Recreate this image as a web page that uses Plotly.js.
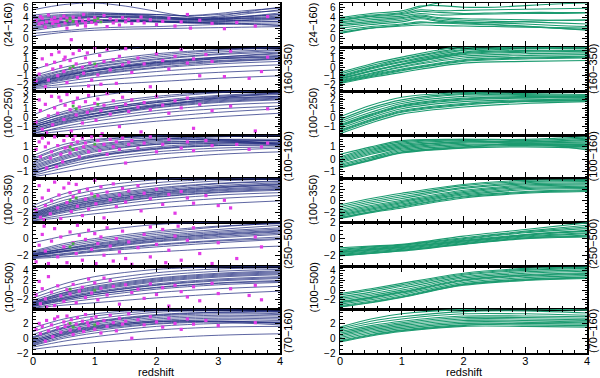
<!DOCTYPE html>
<html>
<head>
<meta charset="utf-8">
<script src="https://cdn.plot.ly/plotly-3.0.1.min.js"></script>
<style>html,body{margin:0;padding:0;background:#fff}#chart{width:600px;height:378px}</style>
</head>
<body>
<div id="chart"></div>
<script>
// ---------- labels / axes ----------
const panelLabels = ["(24\u2212160)","(160\u2212350)","(100\u2212250)","(100\u2212160)","(100\u2212350)","(250\u2212500)","(100\u2212500)","(70\u2212160)"];
const yRanges = [[-1.6,6.8],[-2.8,2.4],[-1.95,3],[-1.5,1.95],[-3.6,3.9],[-3.3,2],[-3.9,5],[-2,3.95]];
const yDticks = [2,1,1,1,2,2,2,2];
const yMinor  = [0.5,0.2,0.2,0.2,0.5,0.5,0.5,0.5];
const xTitle = "redshift";

// ---------- redshift grids ----------
const zTop  = [0,0.5,1,1.5,2,2.5,3,3.5,4];
const zTopR = [0,0.5,1,1.3,1.6,2,2.5,3,3.5,4];
const zGrid = [0,0.5,1,2,3,4];

// ---------- left column model lines (blue) ----------
const left1 = [
 [3.0,3.6,4.0,4.0,3.8,3.6,3.8,4.2,4.6],[2.5,3.2,3.6,3.7,3.6,3.5,3.8,4.3,4.9],
 [3.5,4.0,4.3,4.3,4.1,3.8,4.1,4.8,5.5],[2.0,2.8,3.3,3.5,3.4,3.2,3.3,3.6,3.9],
 [4.0,4.4,4.6,4.5,4.2,3.9,4.0,4.3,4.6],[1.5,2.4,3.0,3.2,3.2,3.1,3.1,3.2,3.3],
 [3.2,3.8,4.1,4.2,4.0,3.7,3.5,3.4,3.3],[4.5,5.0,5.0,4.7,4.3,3.9,4.3,5.2,6.0],
 [2.8,3.3,3.5,3.4,3.2,3.0,2.9,2.7,2.5],[1.0,1.5,2.0,2.2,2.3,2.5,2.7,2.9,3.0],
 [5.5,6.5,6.8,6.2,5.2,4.2,3.8,3.9,4.0],[3.8,4.2,4.5,4.6,4.6,4.4,4.8,5.4,5.8],
 [2.2,3.0,3.4,3.5,3.3,3.1,3.2,3.5,3.7],[0.5,1.2,1.6,1.8,1.9,2.0,2.1,2.2,2.3],
 [3.3,3.9,4.2,4.1,3.9,3.6,3.6,3.8,4.0],[2.6,3.1,3.4,3.4,3.3,3.3,3.6,4.0,4.3],
 [4.2,4.6,4.8,4.8,4.6,4.3,4.6,5.0,5.3],[1.8,2.6,3.1,3.3,3.2,3.0,2.9,2.8,2.6]
];
const left2 = [
 [-2.0,-1.2,-0.6,0.3,0.8,1.1],[-1.8,-0.9,-0.3,0.6,1.1,1.4],[-1.6,-0.7,0.0,0.9,1.5,1.8],
 [-2.2,-1.5,-0.9,-0.1,0.4,0.7],[-1.4,-0.4,0.3,1.2,1.8,2.1],[-2.3,-1.7,-1.2,-0.5,0.0,0.3],
 [-1.9,-1.1,-0.4,0.4,1.0,1.3],[-1.0,0.0,0.7,1.6,2.1,2.4],[-0.3,0.8,1.6,2.6,3.0,3.2],
 [-2.4,-2.0,-1.6,-1.0,-0.6,-0.3],[-1.7,-0.8,-0.2,0.7,1.2,1.6],[-2.1,-1.3,-0.7,0.2,0.7,1.0],
 [-1.5,-0.6,0.1,1.0,1.6,2.0],[-2.0,-1.0,-0.4,0.5,1.0,1.2],[-1.2,-0.3,0.4,1.4,2.0,2.3],
 [-2.5,-2.3,-2.1,-1.7,-1.3,-1.0],[-1.85,-1.0,-0.35,0.55,1.2,1.7],[-2.05,-1.4,-0.8,0.0,0.6,0.95]
];
const left3 = [
 [-1.6,-0.6,0.1,1.1,1.7,2.0],[-1.3,-0.3,0.4,1.4,2.0,2.3],[-1.1,0.0,0.7,1.7,2.3,2.6],
 [-0.9,0.2,0.9,1.9,2.5,2.8],[-0.7,0.5,1.2,2.2,2.8,3.1],[-1.8,-1.0,-0.4,0.5,1.0,1.3],
 [-1.5,-0.7,-0.1,0.8,1.4,1.7],[-1.2,-0.4,0.2,1.2,1.8,2.1],[-1.0,-0.1,0.5,1.5,2.1,2.4],
 [-0.8,0.1,0.8,1.7,2.4,2.7],[0.3,1.6,2.4,3.2,3.5,3.6],[-1.7,-1.2,-0.8,0.0,0.6,1.0],
 [-0.5,0.7,1.5,2.4,2.9,3.1],[-1.4,-0.5,0.2,1.3,2.2,2.8],[-0.6,0.4,1.0,1.8,2.2,2.4],
 [-1.9,-1.5,-1.1,-0.4,0.1,0.5],[-1.05,-0.2,0.45,1.35,1.9,2.2]
];
const left4 = [
 [-1.2,-0.4,0.2,0.8,1.1,1.2],[-1.0,-0.2,0.4,1.0,1.3,1.4],[-0.8,0.0,0.6,1.2,1.4,1.5],
 [-0.6,0.2,0.8,1.3,1.5,1.5],[-0.4,0.5,1.0,1.5,1.6,1.6],[-0.2,0.7,1.2,1.6,1.6,1.5],
 [0.0,0.9,1.4,1.7,1.5,1.3],[0.3,1.2,1.6,1.8,1.6,1.2],[-1.3,-0.7,-0.2,0.4,0.7,0.9],
 [-1.1,-0.5,0.0,0.6,0.9,1.0],[-0.9,-0.2,0.3,0.9,1.2,1.3],[-0.7,0.1,0.7,1.2,1.3,1.3],
 [-0.5,0.3,0.9,1.4,1.4,1.2],[-1.4,-1.0,-0.6,0.0,0.4,0.6],[-0.3,0.6,1.1,1.6,1.8,1.9],
 [0.1,1.0,1.5,1.9,2.0,2.0],[-0.95,-0.3,0.25,0.85,1.1,1.1]
];
const left5 = [
 [-3.0,-1.8,-0.8,0.6,1.4,1.8],[-2.8,-1.5,-0.5,0.9,1.7,2.1],[-2.6,-1.2,-0.2,1.2,2.0,2.5],
 [-2.4,-0.9,0.1,1.5,2.3,2.8],[-2.2,-0.6,0.4,1.8,2.6,3.1],[-2.0,-0.3,0.8,2.2,3.0,3.4],
 [-1.7,0.1,1.2,2.6,3.4,3.7],[-1.3,0.6,1.8,3.1,3.7,3.9],[-3.3,-2.4,-1.6,-0.4,0.4,0.9],
 [-3.1,-2.0,-1.1,0.2,1.0,1.4],[-2.9,-1.7,-0.7,0.7,1.5,2.0],[-2.5,-1.1,-0.1,1.3,2.2,2.7],
 [-2.3,-0.8,0.2,1.6,2.4,2.9],[-0.8,1.2,2.4,3.6,4.0,4.1],[-2.1,-0.5,0.6,2.0,2.9,3.3],
 [-3.4,-2.8,-2.2,-1.2,-0.5,0.0],[-2.7,-1.35,-0.35,1.05,1.85,2.3]
];
const left6 = [
 [-2.2,-1.8,-1.4,-0.7,-0.2,0.2],[-2.1,-1.6,-1.2,-0.4,0.1,0.5],[-2.0,-1.5,-1.0,-0.2,0.4,0.8],
 [-1.9,-1.3,-0.8,0.0,0.6,1.0],[-1.8,-1.2,-0.6,0.3,0.9,1.3],[-1.7,-1.0,-0.4,0.5,1.1,1.6],
 [-1.6,-0.8,-0.2,0.7,1.4,1.9],[-2.3,-2.0,-1.6,-1.0,-0.5,-0.1],[-2.25,-1.9,-1.5,-0.8,-0.3,0.0],
 [-2.05,-1.55,-1.1,-0.3,0.25,0.65],[-1.85,-1.25,-0.7,0.15,0.75,1.15],[-0.5,0.3,0.9,1.7,2.0,2.1],
 [-1.5,-0.6,0.0,0.9,1.5,1.8],[-2.4,-2.2,-2.0,-1.6,-1.2,-0.9],[-1.95,-1.45,-0.95,-0.05,0.5,0.9]
];
const left7 = [
 [-3.4,-2.0,-0.9,0.6,1.5,2.0],[-3.2,-1.7,-0.6,1.0,1.9,2.4],[-3.0,-1.4,-0.3,1.3,2.3,2.8],
 [-2.8,-1.1,0.0,1.7,2.7,3.2],[-2.6,-0.8,0.4,2.1,3.1,3.6],[-2.4,-0.5,0.8,2.5,3.5,4.0],
 [-2.1,-0.1,1.2,3.0,3.9,4.3],[-1.6,0.5,1.9,3.6,4.4,4.6],[-3.6,-2.6,-1.8,-0.5,0.3,0.8],
 [-3.3,-2.2,-1.3,0.2,1.1,1.6],[-2.9,-1.6,-0.5,1.1,2.1,2.6],[-2.7,-1.0,0.2,1.9,2.9,3.4],
 [-2.5,-0.6,0.6,2.3,3.3,3.8],[-1.0,1.3,2.8,4.3,4.8,4.9],[-3.7,-3.1,-2.6,-1.6,-0.8,-0.2],
 [-3.1,-1.9,-0.9,0.5,1.4,1.8]
];
const left8 = [
 [-0.8,0.5,1.3,2.2,2.5,2.4],[-0.6,0.7,1.5,2.4,2.7,2.6],[-0.4,0.9,1.7,2.6,2.9,2.8],
 [-0.2,1.1,1.9,2.8,3.1,3.0],[0.0,1.3,2.1,3.0,3.3,3.2],[0.2,1.5,2.3,3.2,3.5,3.3],
 [0.5,1.8,2.6,3.5,3.7,3.5],[0.9,2.2,3.0,3.7,3.8,3.6],[1.4,2.6,3.3,3.9,3.9,3.7],
 [-1.0,0.0,0.7,1.6,2.0,2.1],[-0.9,0.2,1.0,1.9,2.2,2.2],[-0.7,0.4,1.2,2.0,2.3,2.1],
 [-0.5,0.6,1.4,2.2,2.3,2.0],[-0.3,0.8,1.6,2.3,2.2,1.8],[-1.2,-0.4,0.2,1.1,1.5,1.6],
 [-1.5,-1.0,-0.6,0.0,0.4,0.6],[0.1,1.4,2.2,3.1,3.5,3.6]
];

// ---------- right column model lines (green) ----------
const right1 = [
 [4.0,4.8,5.3,6.2,6.3,6.0,6.0,6.3,6.6,6.8],[3.8,4.5,5.0,6.0,6.8,7.2,7.2,7.2,7.2,7.2],
 [3.5,4.2,4.6,5.2,5.0,4.8,4.9,5.0,5.0,5.0],[3.2,3.9,4.3,4.8,4.5,4.6,4.7,4.8,4.8,4.9],
 [3.0,3.6,4.0,4.5,4.0,3.8,3.7,3.6,3.5,3.5],[2.7,3.3,3.8,4.3,3.8,3.5,3.3,3.2,3.0,2.8],
 [2.4,3.0,3.5,4.0,3.5,3.2,3.0,2.8,2.5,2.3],[2.0,2.7,3.2,3.8,3.3,3.0,2.7,2.4,2.0,1.6],
 [1.5,2.3,2.8,3.2,3.0,2.8,2.6,2.3,2.0,1.7],[1.2,2.0,2.4,2.6,2.5,2.4,2.3,2.2,2.1,2.0],
 [1.0,2.0,2.6,3.0,3.0,3.0,3.1,3.3,3.5,3.6],[3.6,4.3,4.8,5.5,5.3,5.4,5.5,5.6,5.7,5.8]
];
const right2 = [
 [-1.9,-1.2,-0.6,0.5,0.7,0.8],[-1.8,-1.1,-0.4,0.7,1.0,1.1],[-1.7,-0.9,-0.2,0.9,1.2,1.3],
 [-1.6,-0.8,0.0,1.1,1.4,1.5],[-1.5,-0.7,0.1,1.3,1.6,1.7],[-1.4,-0.5,0.3,1.5,1.8,1.9],
 [-1.3,-0.4,0.4,1.7,2.0,2.0],[-1.2,-0.2,0.6,1.8,2.2,2.2],[-1.1,-0.1,0.7,2.0,2.3,2.3],
 [-1.0,0.0,0.9,2.1,2.4,2.4],[-0.8,0.2,1.0,2.3,2.6,2.6],[-0.6,0.4,1.2,2.5,2.7,2.7],
 [-1.75,-1.0,-0.3,0.8,1.1,1.2],[-1.35,-0.45,0.35,1.6,1.9,1.95]
];
const right3 = [
 [-1.8,-0.6,0.4,1.2,1.6,1.8],[-1.6,-0.4,0.6,1.4,1.8,1.9],[-1.4,-0.2,0.8,1.6,1.9,2.0],
 [-1.2,0.0,1.0,1.8,2.0,2.1],[-1.0,0.2,1.2,2.0,2.2,2.2],[-0.8,0.4,1.4,2.2,2.3,2.3],
 [-0.6,0.6,1.6,2.4,2.4,2.4],[-0.4,0.9,1.8,2.6,2.5,2.4],[-0.2,1.1,2.0,2.7,2.6,2.5],
 [0.1,1.4,2.3,2.8,2.7,2.6],[-1.5,-0.3,0.7,1.5,1.85,1.95],[-0.9,0.3,1.3,2.1,2.25,2.25]
];
const right4 = [
 [-0.7,-0.1,0.5,0.9,1.0,0.9],[-0.6,0.0,0.6,1.0,1.1,1.0],[-0.5,0.1,0.7,1.1,1.2,1.1],
 [-0.4,0.2,0.8,1.2,1.2,1.2],[-0.3,0.4,0.9,1.3,1.3,1.3],[-0.2,0.5,1.0,1.4,1.3,1.4],
 [-0.1,0.6,1.1,1.4,1.4,1.5],[0.0,0.7,1.2,1.5,1.4,1.6],[0.2,0.9,1.4,1.6,1.5,1.7],
 [0.4,1.0,1.5,1.6,1.6,1.8],[-0.65,-0.05,0.55,0.95,1.3,0.75],[0.1,0.8,1.3,1.55,1.2,1.05]
];
const right5 = [
 [-3.0,-2.0,-1.2,0.5,1.3,1.6],[-2.8,-1.8,-0.9,0.8,1.6,1.9],[-2.6,-1.6,-0.7,1.0,1.9,2.1],
 [-2.4,-1.4,-0.5,1.2,2.1,2.3],[-2.2,-1.2,-0.3,1.4,2.3,2.5],[-2.0,-1.0,-0.1,1.6,2.5,2.7],
 [-1.8,-0.8,0.1,1.8,2.7,2.9],[-1.6,-0.5,0.4,2.1,2.9,3.1],[-1.3,-0.2,0.7,2.3,3.1,3.3],
 [-1.0,0.1,1.0,2.6,3.3,3.5],[-0.7,0.4,1.3,2.8,3.5,3.6],[-2.9,-1.9,-1.0,0.65,1.45,1.75]
];
const right6 = [
 [-2.1,-1.8,-1.5,-0.7,0.0,0.2],[-2.0,-1.7,-1.4,-0.6,0.1,0.4],[-1.9,-1.6,-1.3,-0.5,0.2,0.6],
 [-1.8,-1.5,-1.2,-0.4,0.3,0.7],[-1.7,-1.4,-1.1,-0.3,0.4,0.9],[-1.6,-1.3,-1.0,-0.2,0.5,1.0],
 [-1.5,-1.2,-0.9,-0.1,0.7,1.2],[-1.4,-1.1,-0.8,0.0,0.8,1.4],[-1.3,-1.0,-0.75,0.1,0.9,1.6],
 [-1.1,-0.9,-0.7,0.3,1.1,1.9],[-2.05,-1.75,-1.45,-0.65,0.05,0.3],[-1.65,-1.35,-1.05,-0.25,0.45,0.95]
];
const right7 = [
 [-3.5,-2.6,-1.5,1.0,2.0,2.4],[-3.2,-2.3,-1.2,1.3,2.3,2.7],[-2.9,-2.0,-0.9,1.6,2.6,3.0],
 [-2.6,-1.7,-0.6,1.9,2.9,3.3],[-2.3,-1.4,-0.3,2.2,3.2,3.6],[-2.0,-1.1,0.0,2.5,3.5,3.9],
 [-1.7,-0.8,0.4,2.8,3.8,4.2],[-1.4,-0.4,0.8,3.1,4.1,4.5],[-1.0,0.0,1.1,3.3,4.3,4.7],
 [-0.7,0.3,1.4,3.5,4.5,4.8],[-3.4,-2.5,-1.4,1.15,2.15,2.55],[-2.45,-1.55,-0.45,2.05,3.05,3.45]
];
const right8 = [
 [-0.5,0.3,0.9,1.6,1.6,1.5],[-0.3,0.5,1.1,1.8,1.8,1.7],[-0.1,0.7,1.3,2.0,2.0,1.9],
 [0.1,0.9,1.5,2.2,2.2,2.1],[0.3,1.1,1.7,2.4,2.4,2.3],[0.5,1.3,1.9,2.6,2.6,2.5],
 [0.7,1.5,2.1,2.8,2.8,2.7],[0.9,1.7,2.3,3.0,3.0,2.9],[1.1,2.0,2.6,3.3,3.3,3.1],
 [1.3,2.3,2.9,3.6,3.7,3.4],[1.5,2.6,3.3,3.9,4.0,3.8],[-0.4,0.4,1.0,1.7,2.1,2.4]
];

// ---------- observed galaxies (magenta) ----------
const obs1x = [0.05,0.1,0.12,0.15,0.2,0.22,0.25,0.3,0.32,0.35,0.4,0.42,0.45,0.5,0.52,0.55,0.6,0.62,0.65,0.7,0.72,0.75,0.8,0.82,0.85,0.9,0.95,1.0,1.02,1.05,1.1,1.15,1.2,1.25,1.3,1.35,1.4,1.45,1.5,1.55,1.6,1.7,1.75,1.8,1.9,2.0,2.1,2.2,2.3,2.4,2.5,2.55,2.7,2.9,3.1,3.3,3.6,3.8,0.15,0.35,0.55,0.85];
const obs1y = [3.5,2.8,4.2,3.9,2.2,3.2,4.5,3.6,2.9,4.0,3.3,2.5,3.8,4.3,3.0,2.0,3.5,-0.2,4.1,3.2,2.6,3.9,3.4,4.6,2.4,3.7,3.1,4.0,2.8,3.6,3.3,4.4,2.3,3.8,3.0,3.5,2.6,4.0,3.2,3.7,2.9,3.4,4.1,3.0,3.6,2.7,3.3,3.9,2.4,3.2,4.6,2.0,3.5,2.9,1.9,3.1,2.4,4.2,3.0,3.3,3.9,3.0];
const obs2x = [0.1,0.15,0.2,0.22,0.25,0.3,0.32,0.35,0.4,0.42,0.45,0.5,0.52,0.55,0.6,0.62,0.65,0.7,0.72,0.75,0.8,0.82,0.85,0.9,0.92,0.95,1.0,1.02,1.05,1.08,1.1,1.15,1.2,1.25,1.3,1.35,1.4,1.45,1.5,1.55,1.6,1.7,1.8,1.9,2.0,2.1,2.2,2.3,2.4,2.5,2.6,2.7,2.8,2.9,3.1,3.2,3.5,3.7,3.8,0.05,0.5,0.88];
const obs2y = [-0.8,1.0,-2.3,0.3,-1.5,1.5,-0.2,0.6,-1.0,1.8,0.1,-0.5,1.2,-1.8,0.8,-0.1,1.6,0.4,-1.2,2.0,0.0,-0.7,1.1,-2.2,0.5,-1.5,2.3,0.2,-0.9,1.4,-2.0,0.7,2.1,-0.3,0.9,-1.9,1.3,0.3,2.2,0.6,-0.6,1.1,0.4,-2.3,1.6,0.8,-0.2,1.3,2.1,0.5,1.0,-1.0,1.5,0.7,-1.1,1.9,-1.3,-0.5,1.2,-1.6,0.9,1.7];
const obs3x = [0.05,0.1,0.12,0.15,0.2,0.25,0.3,0.32,0.35,0.4,0.45,0.5,0.52,0.55,0.6,0.62,0.65,0.7,0.72,0.75,0.8,0.85,0.88,0.9,0.95,1.0,1.02,1.05,1.1,1.15,1.2,1.25,1.3,1.35,1.4,1.45,1.5,1.55,1.6,1.7,1.75,1.8,1.9,2.0,2.1,2.2,2.3,2.4,2.5,2.6,2.7,2.9,3.2,3.6,3.8,0.22,0.42,1.12];
const obs3y = [-0.5,2.0,0.8,-1.3,1.5,0.2,2.4,-0.8,1.1,0.5,1.9,-0.2,1.4,2.6,0.9,-1.5,1.7,0.3,2.2,1.2,-0.6,1.8,0.6,2.5,1.0,1.6,-0.3,2.1,0.8,1.4,2.7,0.4,1.9,1.1,-1.0,2.3,1.5,0.7,2.0,1.2,-1.6,1.7,0.9,2.4,1.4,0.5,1.9,1.1,2.2,-1.2,1.5,0.8,1.3,-1.5,1.0,-1.7,2.3,-1.8];
const obs4x = [0.05,0.1,0.12,0.15,0.2,0.22,0.25,0.3,0.35,0.38,0.4,0.45,0.5,0.52,0.55,0.6,0.62,0.65,0.7,0.72,0.75,0.8,0.82,0.85,0.9,0.95,1.0,1.05,1.08,1.1,1.15,1.2,1.25,1.3,1.35,1.4,1.45,1.5,1.55,1.6,1.7,1.8,1.9,2.0,2.1,2.2,2.4,2.5,2.6,2.8,2.9,0.28,0.48,0.68,0.58,3.3,3.5,3.7,3.8];
const obs4y = [0.8,1.4,0.2,1.7,1.0,-0.7,1.3,0.6,1.8,-0.6,1.1,0.4,1.5,0.9,1.9,0.5,1.2,1.6,0.8,1.4,0.2,1.7,1.0,1.3,0.6,1.8,1.1,1.5,0.7,1.9,1.2,0.4,1.6,1.0,1.4,0.8,1.7,-0.3,1.2,1.5,0.9,1.3,1.8,0.6,1.2,1.6,0.9,1.4,0.7,1.5,1.1,0.1,-0.2,1.9,1.0,1.2,0.8,1.0,1.3];
const obs5x = [0.05,0.1,0.12,0.15,0.2,0.25,0.28,0.3,0.35,0.4,0.42,0.45,0.5,0.55,0.6,0.62,0.65,0.7,0.72,0.75,0.8,0.85,0.88,0.9,0.95,1.0,1.02,1.05,1.1,1.15,1.2,1.25,1.3,1.35,1.4,1.45,1.5,1.55,1.6,1.7,1.75,1.8,1.9,2.0,2.1,2.2,2.3,2.4,2.5,2.6,2.8,3.0,3.1,3.2,0.18,0.58];
const obs5y = [-1.5,2.6,-2.8,0.5,-0.8,1.8,-2.2,0.0,3.2,-1.2,1.0,-3.0,2.2,-0.3,1.4,-1.8,0.7,2.8,-0.9,1.6,-2.5,0.3,2.0,-1.4,1.2,3.5,-0.5,0.9,2.4,-2.9,1.5,0.2,2.9,-1.0,1.0,2.1,-0.2,1.7,0.6,2.6,-1.7,1.3,0.4,2.0,-0.6,1.1,-2.1,1.6,0.5,-0.4,0.9,-0.8,0.1,-1.2,-3.2,3.0];
const obs6x = [0.05,0.1,0.15,0.2,0.25,0.3,0.35,0.4,0.45,0.5,0.55,0.6,0.65,0.7,0.75,0.8,0.85,0.9,0.95,1.0,1.02,1.05,1.1,1.15,1.2,1.25,1.3,1.35,1.4,1.45,1.5,1.55,1.6,1.7,1.8,1.9,2.0,2.1,2.15,2.2,2.3,2.35,2.4,2.5,2.6,2.7,2.9,3.0,3.3,3.6,3.7,0.18,0.72,1.9];
const obs6y = [-2.8,-0.8,0.5,-1.5,-3.0,-0.3,1.2,-2.2,0.2,-1.0,-2.9,0.8,-0.5,-1.8,0.4,-2.6,-0.1,1.0,-1.3,0.6,-3.0,-0.6,0.2,-2.0,1.3,-0.9,-2.7,0.0,-1.6,0.9,-2.4,-0.4,-3.1,-1.1,0.5,-2.2,-0.7,1.1,-2.9,-1.4,0.3,1.5,-2.6,-0.2,1.3,-1.8,-3.0,-0.5,-2.4,0.2,-1.0,1.5,1.6,1.4];
const obs7x = [0.05,0.1,0.12,0.15,0.2,0.25,0.3,0.35,0.4,0.45,0.5,0.55,0.6,0.65,0.7,0.75,0.8,0.85,0.9,0.95,1.0,1.05,1.1,1.15,1.2,1.3,1.4,1.5,1.6,1.7,1.8,1.9,2.0,2.1,2.2,2.3,2.4,2.5,2.6,2.7,2.9,3.0,3.2,3.5,3.6,3.7,0.22,1.25];
const obs7y = [-1.0,1.8,-2.8,0.3,-1.8,2.8,-0.4,-3.2,0.9,-1.2,-2.3,0.1,-0.8,1.2,-2.6,-0.2,0.6,-1.5,2.3,-0.6,1.5,-2.0,0.4,2.5,-1.0,0.8,-2.9,1.1,-0.5,0.2,-1.7,1.3,-0.9,0.5,-3.3,1.0,-0.3,-1.4,0.7,-2.2,1.4,-0.7,0.3,-1.1,1.0,-2.0,-3.5,2.0];
const obs8x = [0.05,0.1,0.12,0.15,0.2,0.22,0.25,0.3,0.32,0.35,0.4,0.45,0.5,0.52,0.55,0.6,0.62,0.65,0.7,0.72,0.75,0.8,0.82,0.85,0.9,0.95,1.0,1.02,1.05,1.1,1.15,1.2,1.25,1.3,1.35,1.4,1.45,1.5,1.55,1.6,1.7,1.8,1.9,2.0,2.1,2.2,2.3,2.4,2.5,2.6,2.8,3.0,3.6,0.4,0.58,0.88];
const obs8y = [1.2,2.0,0.6,1.6,-0.4,2.4,1.0,1.8,0.2,2.6,1.4,0.8,2.2,1.6,3.0,1.1,2.5,0.5,1.9,2.8,1.3,2.3,0.9,3.2,1.7,2.6,1.2,2.9,2.0,0.7,2.4,1.6,3.1,2.1,1.0,2.7,1.9,2.3,3.3,0.0,2.5,1.8,2.9,2.2,1.5,2.7,2.0,1.2,2.6,1.9,2.4,1.7,2.1,2.9,1.9,2.1];

// ---------- green highlighted objects ----------
const hl1x = [0.55,0.6,0.65,1.0,1.05,1.1], hl1y = [3.4,3.8,3.3,3.5,3.8,3.2];
const hl2x = [0.6,0.65,1.0], hl2y = [-0.1,0.1,0.4];
const hl3x = [0.65,0.7,1.05], hl3y = [1.3,1.0,1.5];
const hl4x = [0.6,0.65,1.0], hl4y = [1.0,0.8,1.2];
const hl5x = [0.6,0.7,1.0], hl5y = [0.1,0.5,0.8];
const hl6x = [0.6,0.65], hl6y = [-1.0,-0.6];
const hl7x = [0.6,1.0], hl7y = [0.2,0.0];
const hl8x = [0.6,0.65,1.0], hl8y = [2.0,1.5,1.8];

// ---------- assemble ----------
const leftLines  = [left1,left2,left3,left4,left5,left6,left7,left8];
const rightLines = [right1,right2,right3,right4,right5,right6,right7,right8];
const obsX = [obs1x,obs2x,obs3x,obs4x,obs5x,obs6x,obs7x,obs8x];
const obsY = [obs1y,obs2y,obs3y,obs4y,obs5y,obs6y,obs7y,obs8y];
const hlX = [hl1x,hl2x,hl3x,hl4x,hl5x,hl6x,hl7x,hl8x];
const hlY = [hl1y,hl2y,hl3y,hl4y,hl5y,hl6y,hl7y,hl8y];

const W = 600, H = 378;
const panelTop = [3,47,91,135,178,222,266,309,353];
const colX = [[33,280],[340,587]];
const FONT = "Liberation Sans, Arial, sans-serif";

const traces = [];
const layout = {
  width: W, height: H, margin: {l:0,r:0,t:0,b:0},
  paper_bgcolor: '#fff', plot_bgcolor: '#fff', showlegend: false,
  font: {family: FONT, color: '#000', size: 11},
  annotations: []
};

function axId(n){ return n === 1 ? '' : String(n); }

for (let c = 0; c < 2; c++) {
  for (let i = 0; i < 8; i++) {
    const n = c*8 + i + 1;
    const xa = 'x' + axId(n), ya = 'y' + axId(n);
    const zz = (i === 0) ? (c === 0 ? zTop : zTopR) : zGrid;
    const set = c === 0 ? leftLines[i] : rightLines[i];
    set.forEach(v => traces.push({
      type: 'scatter', mode: 'lines', x: zz, y: v, xaxis: xa, yaxis: ya,
      line: c === 0 ? {color: 'rgba(30,42,125,0.8)', width: 0.9, shape: 'spline', smoothing: 0.9}
                    : {color: 'rgb(28,155,112)', width: 1.1, shape: 'spline', smoothing: 0.9},
      hoverinfo: 'skip'
    }));
    if (c === 0) {
      traces.push({type:'scatter', mode:'markers', x: obsX[i], y: obsY[i], xaxis: xa, yaxis: ya,
        marker:{symbol:'square', size:3.2, color:'#e23be6', line:{width:0}}, hoverinfo:'skip'});
      traces.push({type:'scatter', mode:'markers', x: hlX[i], y: hlY[i], xaxis: xa, yaxis: ya,
        marker:{symbol:'square', size:2.8, color:'#46b04a', line:{width:0}}, hoverinfo:'skip'});
    }
    const yTop = panelTop[i], yBot = panelTop[i+1];
    layout['xaxis' + axId(n)] = {
      domain: [colX[c][0]/W, colX[c][1]/W], anchor: ya, range: [0,4],
      showgrid: false, zeroline: false, showline: true, linecolor: '#000', linewidth: 1.5,
      mirror: 'allticks', ticks: 'inside', ticklen: 6, tickwidth: 1, tickcolor: '#000',
      dtick: 1, tick0: 0, minor: {ticks: 'inside', ticklen: 3, dtick: 0.2, tickcolor: '#000', showgrid: false},
      showticklabels: i === 7, tickfont: {size: 11, family: FONT, color: '#000'}, ticklabelstandoff: -3, fixedrange: true
    };
    layout['yaxis' + axId(n)] = {
      domain: [1 - yBot/H, 1 - yTop/H], anchor: xa, range: yRanges[i],
      showgrid: false, zeroline: false, showline: true, linecolor: '#000', linewidth: 1.5,
      mirror: 'allticks', ticks: 'inside', ticklen: 5, tickwidth: 1, tickcolor: '#000',
      dtick: yDticks[i], tick0: 0, minor: {ticks: 'inside', ticklen: 2.5, dtick: yMinor[i], tickcolor: '#000', showgrid: false},
      tickfont: {size: 10, family: FONT, color: '#000'}, ticklabelstandoff: 1, fixedrange: true
    };
    const cy = (yTop + yBot) / 2;
    const labX = (i % 2 === 0) ? (c === 0 ? 8 : 313) : (c === 0 ? 288 : 593);
    layout.annotations.push({
      xref: 'paper', yref: 'paper', x: labX/W, y: 1 - cy/H, text: panelLabels[i],
      showarrow: false, textangle: -90, xanchor: 'center', yanchor: 'middle',
      font: {size: 11, family: FONT, color: '#000'}
    });
  }
  layout.annotations.push({
    xref: 'paper', yref: 'paper', x: (colX[c][0] + colX[c][1]) / 2 / W, y: 0,
    text: xTitle, showarrow: false, xanchor: 'center', yanchor: 'bottom', yshift: -2,
    font: {size: 11, family: FONT, color: '#000'}
  });
}

Plotly.newPlot('chart', traces, layout, {staticPlot: true, displayModeBar: false});
</script>
</body>
</html>
